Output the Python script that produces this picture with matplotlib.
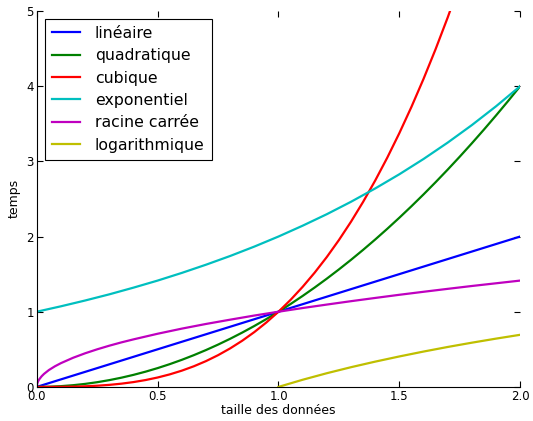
import matplotlib
matplotlib.use('Agg')
import matplotlib.pyplot as plt

# values
x = [0.0, 0.1, 0.2, 0.3, 0.4, 0.5, 0.6, 0.7, 0.8, 0.9, 1.0,
     1.1, 1.2, 1.3, 1.4, 1.5, 1.6, 1.7, 1.8, 1.9, 2.0]
lineaire = x
exponentiel = [1, 1.072, 1.149, 1.231, 1.320, 1.414, 1.516, 1.625, 1.741, 1.866, 2,
               2.144, 2.297, 2.462, 2.639, 2.828, 3.031, 3.249, 3.482, 3.732, 4]

# finer sampling for the curved ones
x_fin = [0.0, 0.05, 0.1, 0.15, 0.2, 0.25, 0.3, 0.35, 0.4, 0.45, 0.5,
         0.55, 0.6, 0.65, 0.7, 0.75, 0.8, 0.85, 0.9, 0.95, 1.0,
         1.05, 1.1, 1.15, 1.2, 1.25, 1.3, 1.35, 1.4, 1.45, 1.5,
         1.55, 1.6, 1.65, 1.7, 1.75, 1.8, 1.85, 1.9, 1.95, 2.0]
quadratique = [0, .0025, .01, .0225, .04, .0625, .09, .1225, .16, .2025, .25,
               .3025, .36, .4225, .49, .5625, .64, .7225, .81, .9025, 1,
               1.1025, 1.21, 1.3225, 1.44, 1.5625, 1.69, 1.8225, 1.96, 2.1025, 2.25,
               2.4025, 2.56, 2.7225, 2.89, 3.0625, 3.24, 3.4225, 3.61, 3.8025, 4.0]
x_cub = x_fin[:36]
cubique = [0, .000125, .001, .003375, .008, .015625, .027, .042875, .064, .091125, .125,
           .166375, .216, .274625, .343, .421875, .512, .614125, .729, .857375, 1,
           1.157625, 1.331, 1.520875, 1.728, 1.953125, 2.197, 2.460375, 2.744, 3.048625, 3.375,
           3.723875, 4.096, 4.492125, 4.913, 5.359375]

x_racine = [0, 0.0005, 0.001, 0.002, 0.005, 0.01, 0.02, 0.03, 0.05, 0.075, 0.1, 0.15,
            0.2, 0.25, 0.3, 0.35, 0.4, 0.5, 0.6, 0.7, 0.8, 0.9, 1.0,
            1.1, 1.2, 1.3, 1.4, 1.5, 1.6, 1.7, 1.8, 1.9, 2.0]
racine = [0, .022, .032, .045, .071, .1, .141, .173, .224, .274, .316, .387,
          .447, .5, .548, .592, .632, .707, .775, .837, .894, .949, 1,
          1.049, 1.095, 1.140, 1.183, 1.225, 1.265, 1.304, 1.342, 1.378, 1.414]

x_log = [1.0, 1.1, 1.2, 1.3, 1.4, 1.5, 1.6, 1.7, 1.8, 1.9, 2.0]
logarithme = [0, .095, .182, .262, .336, .405, .470, .531, .588, .642, .693]

fig = plt.figure(figsize=(5.33, 4.21), dpi=100)
ax = fig.add_axes([0.069, 0.081, 0.907, 0.893])

lw = 1.6
ax.plot(x, lineaire, color='b', lw=lw, label='linéaire')
ax.plot(x_fin, quadratique, color='g', lw=lw, label='quadratique')
ax.plot(x_cub, cubique, color='r', lw=lw, label='cubique')
ax.plot(x, exponentiel, color='c', lw=lw, label='exponentiel')
ax.plot(x_racine, racine, color='m', lw=lw, label='racine carrée')
ax.plot(x_log, logarithme, color='y', lw=lw, label='logarithmique')

ax.set_xlim(0, 2)
ax.set_ylim(0, 5)
ax.set_xticks([0.0, 0.5, 1.0, 1.5, 2.0])
ax.set_yticks([0, 1, 2, 3, 4, 5])
ax.set_xlabel('taille des données', fontsize=9, labelpad=1)
ax.set_ylabel('temps', fontsize=9, labelpad=4)

ax.spines['top'].set_visible(False)
ax.spines['right'].set_visible(False)
ax.tick_params(direction='in', top=True, right=True, length=4, width=0.8,
               labelsize=8.5, pad=2)

leg = ax.legend(loc='upper left', fontsize=11.3, fancybox=False,
                handlelength=1.8, handletextpad=0.95, labelspacing=0.47,
                borderaxespad=0.5, borderpad=0.45, framealpha=1)
leg.get_frame().set_edgecolor('black')
leg.get_frame().set_linewidth(0.8)

fig.savefig('out.png', dpi=100, facecolor='white')
